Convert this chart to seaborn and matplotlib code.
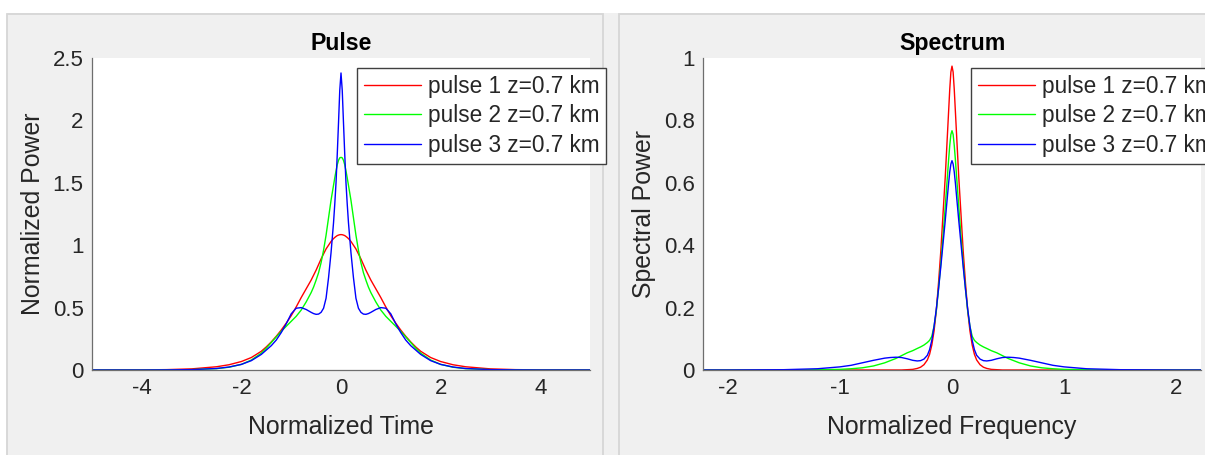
import numpy as np
import pandas as pd
import matplotlib
matplotlib.use("Agg")
import matplotlib.pyplot as plt
from matplotlib.patches import Rectangle
import seaborn as sns

# ---- pulse shapes in time (t >= 0 half, curves are symmetric about t = 0) ----
t_half = [0.0, 0.025, 0.05, 0.075, 0.1, 0.125, 0.15, 0.175, 0.2, 0.25, 0.3, 0.35,
          0.4, 0.45, 0.5, 0.55, 0.6, 0.7, 0.8, 0.9, 1.0, 1.1, 1.2, 1.3, 1.4, 1.5,
          1.6, 1.8, 2.0, 2.25, 2.5, 3.0, 3.5, 4.0, 5.0]
pulse1_half = [1.085, 1.084, 1.081, 1.077, 1.07, 1.062, 1.053, 1.042, 1.03, 1.0, 0.97, 0.93,
               0.89, 0.845, 0.80, 0.76, 0.72, 0.65, 0.58, 0.505, 0.435, 0.375, 0.32, 0.27, 0.225, 0.185,
               0.15, 0.10, 0.068, 0.042, 0.026, 0.009, 0.003, 0.001, 0.0]
pulse2_half = [1.704, 1.70, 1.68, 1.645, 1.595, 1.54, 1.48, 1.42, 1.36, 1.22, 1.08, 0.96,
               0.86, 0.78, 0.72, 0.665, 0.62, 0.545, 0.48, 0.43, 0.39, 0.35, 0.31, 0.265, 0.22, 0.175,
               0.135, 0.08, 0.045, 0.022, 0.011, 0.003, 0.001, 0.0, 0.0]
pulse3_half = [2.38, 2.24, 1.98, 1.73, 1.50, 1.33, 1.18, 1.06, 0.94, 0.74, 0.575, 0.495,
               0.462, 0.448, 0.446, 0.452, 0.462, 0.485, 0.50, 0.495, 0.45, 0.37, 0.30, 0.24, 0.195, 0.16,
               0.125, 0.075, 0.045, 0.024, 0.012, 0.003, 0.001, 0.0, 0.0]

# ---- spectra (f >= 0 half, symmetric about f = 0) ----
f_half = [0.0, 0.01, 0.02, 0.03, 0.04, 0.05, 0.06, 0.08, 0.1, 0.12, 0.14, 0.16, 0.18,
          0.2, 0.22, 0.25, 0.28, 0.31, 0.35, 0.4, 0.45, 0.5, 0.55, 0.6, 0.7, 0.8, 0.9,
          1.0, 1.2, 1.5, 2.0, 2.5]
spec1_half = [0.974, 0.955, 0.90, 0.83, 0.76, 0.69, 0.62, 0.50, 0.38, 0.28, 0.19, 0.125, 0.08,
              0.05, 0.032, 0.017, 0.009, 0.005, 0.002, 0.001, 0.0, 0.0, 0.0, 0.0, 0.0, 0.0, 0.0,
              0.0, 0.0, 0.0, 0.0, 0.0]
spec2_half = [0.767, 0.755, 0.72, 0.675, 0.625, 0.575, 0.525, 0.43, 0.34, 0.26, 0.19, 0.14, 0.108,
              0.095, 0.088, 0.08, 0.074, 0.069, 0.062, 0.055, 0.046, 0.037, 0.030, 0.023, 0.013, 0.007, 0.004,
              0.002, 0.001, 0.0, 0.0, 0.0]
spec3_half = [0.671, 0.66, 0.635, 0.60, 0.56, 0.52, 0.48, 0.405, 0.33, 0.26, 0.195, 0.14, 0.095,
              0.065, 0.047, 0.035, 0.030, 0.029, 0.031, 0.036, 0.040, 0.041, 0.040, 0.038, 0.031, 0.023, 0.015,
              0.010, 0.004, 0.001, 0.0, 0.0]

labels = ["pulse 1 z=0.7 km", "pulse 2 z=0.7 km", "pulse 3 z=0.7 km"]
colors = ["#ff0000", "#00ff00", "#0000ff"]


def mirrored(x_half, y_half):
    x = np.asarray(x_half, float)
    y = np.asarray(y_half, float)
    return np.concatenate([-x[::-1], x[1:]]), np.concatenate([y[::-1], y[1:]])


def long_frame(x_half, series):
    parts = []
    for lab, y_half in zip(labels, series):
        x, y = mirrored(x_half, y_half)
        parts.append(pd.DataFrame({"x": x, "y": y, "curve": lab}))
    return pd.concat(parts, ignore_index=True)


pulse_df = long_frame(t_half, [pulse1_half, pulse2_half, pulse3_half])
spec_df = long_frame(f_half, [spec1_half, spec2_half, spec3_half])

sns.set_style("white")
plt.rcParams["font.family"] = ["Liberation Sans", "DejaVu Sans"]
plt.rcParams["axes.unicode_minus"] = False

W, H = 1205, 455
fig = plt.figure(figsize=(W / 100, H / 100), dpi=100, facecolor="white")


def fx(px):
    return px / W


def fy(py):
    return 1 - py / H


# window-style panel backgrounds
fig.add_artist(Rectangle((fx(7), 0), 1, fy(13), transform=fig.transFigure,
                         facecolor="#f0f0f0", edgecolor="none", zorder=-10))
for x0, x1 in [(7.5, 603), (618.5, 1300)]:
    fig.add_artist(Rectangle((fx(x0), -0.1), fx(x1) - fx(x0), fy(13.5) + 0.1,
                             transform=fig.transFigure, fill=False,
                             edgecolor="#d6d6d6", linewidth=1.3, zorder=-9))

ax_l = fig.add_axes([fx(92), fy(370), fx(590) - fx(92), fy(58) - fy(370)])
ax_r = fig.add_axes([fx(703), fy(370), fx(1201) - fx(703), fy(58) - fy(370)])

text_col = "#262626"
axis_col = "#6e6e6e"

panels = [
    (ax_l, pulse_df, "Pulse", "Normalized Time", "Normalized Power",
     (-5, 5), (0, 2.5), [-4, -2, 0, 2, 4], [0, 0.5, 1, 1.5, 2, 2.5],
     ["0", "0.5", "1", "1.5", "2", "2.5"], 0.532),
    (ax_r, spec_df, "Spectrum", "Normalized Frequency", "Spectral Power",
     (-2.22, 2.22), (0, 1), [-2, -1, 0, 1, 2], [0, 0.2, 0.4, 0.6, 0.8, 1],
     ["0", "0.2", "0.4", "0.6", "0.8", "1"], 0.538),
]

for (ax, df, title, xlabel, ylabel, xlim, ylim, xt, yt, ytl, leg_x) in panels:
    ax.set_facecolor("white")
    sns.lineplot(data=df, x="x", y="y", hue="curve", palette=colors,
                 estimator=None, sort=False, linewidth=1.0, legend=False, ax=ax)
    ax.set_xlim(*xlim)
    ax.set_ylim(*ylim)
    ax.set_xticks(xt)
    ax.set_xticklabels([str(v) for v in xt])
    ax.set_yticks(yt)
    ax.set_yticklabels(ytl)
    for side in ["top", "right"]:
        ax.spines[side].set_visible(False)
    for side in ["left", "bottom"]:
        ax.spines[side].set_color(axis_col)
        ax.spines[side].set_linewidth(0.9)
    ax.tick_params(direction="in", length=4, width=0.9, color=axis_col,
                   labelsize=16, labelcolor=text_col, pad=6)
    ax.set_title(title, fontsize=16.7, fontweight="bold", color="black", pad=5.5)
    ax.set_xlabel(xlabel, fontsize=17.9, color=text_col)
    ax.set_ylabel(ylabel, fontsize=17.9, color=text_col)
    ax.xaxis.set_label_coords(0.5, -0.182)
    ax.xaxis.label.set_verticalalignment("center")
    ax.yaxis.set_label_coords(-0.118, 0.5)
    ax.yaxis.label.set_verticalalignment("center")

    handles = ax.get_lines()[:3]
    leg = ax.legend(handles, labels, loc="upper left", bbox_to_anchor=(leg_x, 0.968),
                    borderaxespad=0, fontsize=16.3, frameon=True, fancybox=False,
                    framealpha=1, edgecolor="#404040", handlelength=2.55,
                    handletextpad=0.28, borderpad=0.3, labelspacing=0.29)
    leg.get_frame().set_linewidth(1.0)
    leg.get_frame().set_facecolor("white")

fig.savefig("out.png", dpi=100, facecolor=fig.get_facecolor())
